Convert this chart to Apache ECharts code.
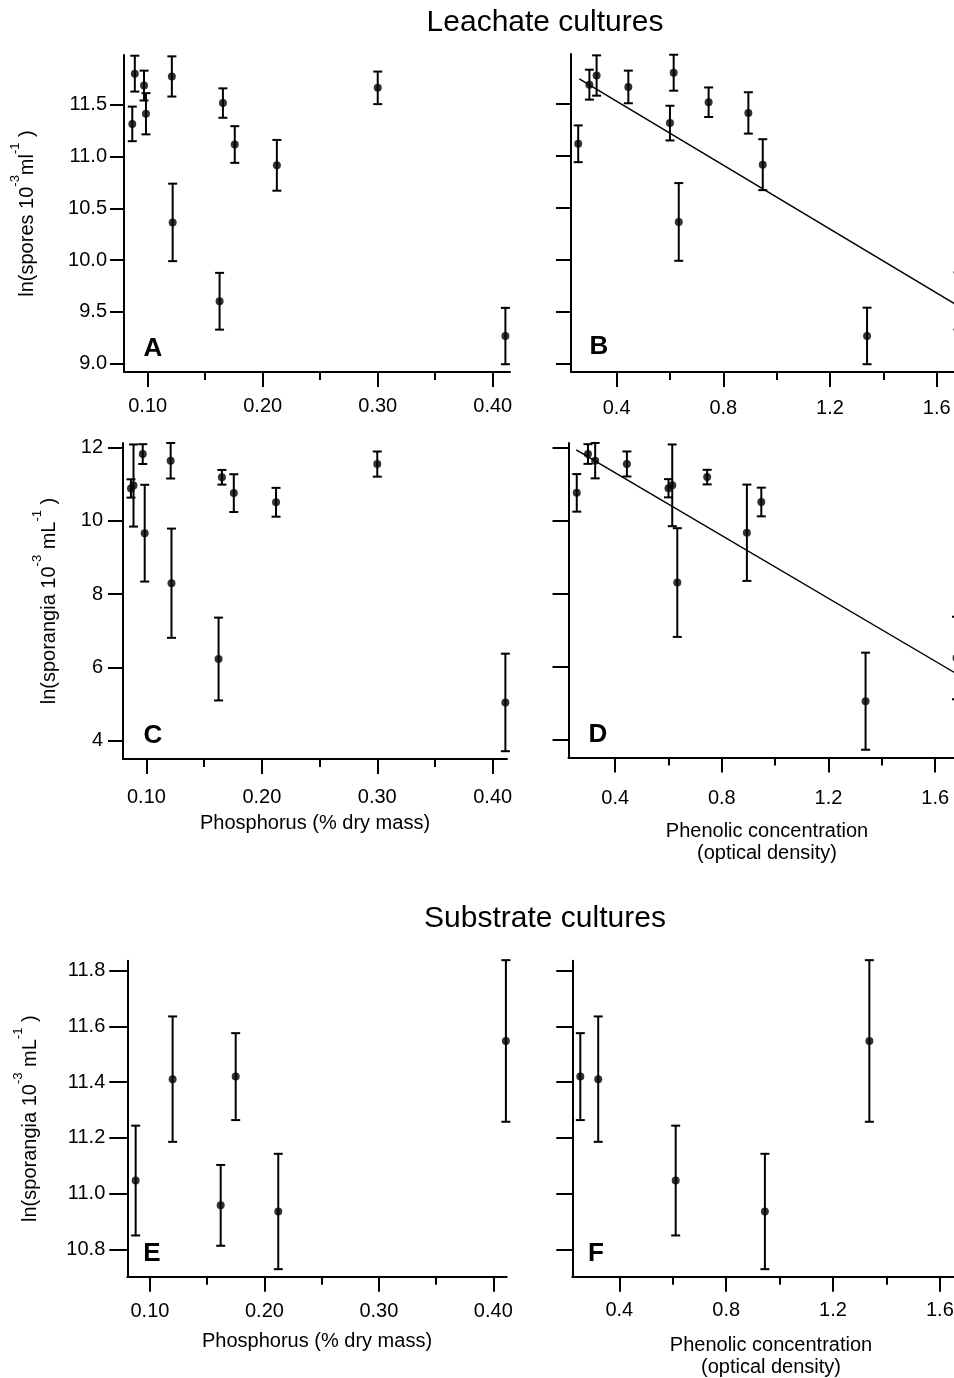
<!DOCTYPE html>
<html><head><meta charset="utf-8">
<script src="https://cdn.jsdelivr.net/npm/echarts@6/dist/echarts.min.js"></script>
<style>html,body{margin:0;padding:0;background:#fff}#c{width:954px;height:1378px}</style>
</head><body><div id="c"></div>
<script>
// ---------- DATA ----------
// Leachate cultures (12 leaf litter leachates)
const phosphorus    = [0.0866, 0.0888, 0.0968, 0.0985, 0.121, 0.1217, 0.1625, 0.1654, 0.1757, 0.2123, 0.300, 0.411];
const phenolic      = [0.600, 0.614, 0.298, 0.894, 0.325, 0.633, 1.68, 0.745, 0.256, 0.948, 0.444, 1.339];
const sporesMean    = [11.315, 11.80, 11.685, 11.413, 11.773, 10.364, 9.603, 11.516, 11.116, 10.915, 11.663, 9.267];
const sporesErr     = [0.167, 0.173, 0.144, 0.199, 0.194, 0.374, 0.274, 0.142, 0.177, 0.245, 0.157, 0.272];
const sporangiaMean = [10.88, 10.96, 11.818, 9.66, 11.636, 8.295, 6.227, 11.185, 10.753, 10.503, 11.545, 5.043];
const sporangiaErr  = [0.25, 1.12, 0.27, 1.32, 0.485, 1.49, 1.13, 0.20, 0.515, 0.393, 0.343, 1.33];
// Substrate cultures (6 substrates)
const subPhosphorus = [0.0875, 0.1198, 0.1618, 0.1749, 0.2121, 0.411];
const subPhenolic   = [0.611, 0.321, 1.68, 0.254, 0.945, 1.336];
const subMean       = [11.047, 11.411, 10.958, 11.42, 10.936, 11.548];
const subErr        = [0.197, 0.225, 0.145, 0.156, 0.207, 0.29];
// Regression lines (endpoints in data units)
const fitB = [[0.26, 11.74], [1.80, 9.373]];
const fitD = [[0.254, 11.93], [1.80, 5.28]];
// Tick values
const phosTicks      = [0.10, 0.20, 0.30, 0.40];
const phosMinor      = [0.15, 0.25, 0.35];
const phenTicks      = [0.4, 0.8, 1.2, 1.6];
const phenMinor      = [0.6, 1.0, 1.4];
const sporesTicks    = [9.0, 9.5, 10.0, 10.5, 11.0, 11.5];
const sporangiaTicks = [4, 6, 8, 10, 12];
const subTicks       = [10.8, 11.0, 11.2, 11.4, 11.6, 11.8];

// ---------- CHART ----------
const FONT = 'Liberation Sans, Arial, sans-serif';
const chart = echarts.init(document.getElementById('c'), null, {renderer: 'canvas'});

const ynameRich = {
  m: {fontSize: 20, fontFamily: FONT, color: '#000'},
  s: {fontSize: 13, fontFamily: FONT, color: '#000', padding: [0, 0, 24, 0]}
};
const yNameSpores = '{m|ln(spores 10}{s|-3}{m|ml}{s|-1}{m| )}';
const yNameSporangia = '{m|ln(sporangia 10}{s|-3}{m| mL}{s|-1}{m| )}';

const panels = [
  {grid: {left: 124, top: 55, width: 386, height: 317},
   x: {min: 0.0794, max: 0.415, major: phosTicks, minor: phosMinor, dec: 2, margin: 24},
   y: {min: 8.92, max: 11.98, ticks: sporesTicks, dec: 1, margin: 17, labels: true, tick: 14},
   yName: yNameSpores, yNameGap: 78.5,
   xs: phosphorus, ys: sporesMean, es: sporesErr},
  {grid: {left: 571, top: 54, width: 419, height: 318},
   x: {min: 0.229, max: 1.8, major: phenTicks, minor: phenMinor, dec: 1, margin: 26},
   y: {min: 8.92, max: 11.98, ticks: sporesTicks, dec: 1, margin: 17, labels: false, tick: 15},
   xs: phenolic, ys: sporesMean, es: sporesErr, fit: fitB},
  {grid: {left: 123, top: 443, width: 384, height: 316},
   x: {min: 0.0797, max: 0.4124, major: phosTicks, minor: phosMinor, dec: 2, margin: 28},
   y: {min: 3.5, max: 12.12, ticks: sporangiaTicks, dec: 0, margin: 20, labels: true, tick: 15},
   yName: yNameSporangia, yNameGap: 55.5,
   xName: 'Phosphorus (% dry mass)', xNameGap: 54,
   xs: phosphorus, ys: sporangiaMean, es: sporangiaErr},
  {grid: {left: 568.5, top: 443, width: 420, height: 314.5},
   x: {min: 0.225, max: 1.8, major: phenTicks, minor: phenMinor, dec: 1, margin: 31},
   y: {min: 3.5, max: 12.12, ticks: sporangiaTicks, dec: 0, margin: 15, labels: false, tick: 16},
   xs: phenolic, ys: sporangiaMean, es: sporangiaErr, fit: fitD},
  {grid: {left: 127.3, top: 960.7, width: 379.4, height: 316},
   x: {min: 0.0802, max: 0.4117, major: phosTicks, minor: phosMinor, dec: 2, margin: 25},
   y: {min: 10.702, max: 11.836, ticks: subTicks, dec: 1, margin: 22, labels: true, tick: 18},
   yName: yNameSporangia, yNameGap: 78,
   xName: 'Phosphorus (% dry mass)', xNameGap: 54.5,
   xs: subPhosphorus, ys: subMean, es: subErr},
  {grid: {left: 572.3, top: 960.7, width: 421, height: 316},
   x: {min: 0.224, max: 1.8, major: phenTicks, minor: phenMinor, dec: 1, margin: 24},
   y: {min: 10.702, max: 11.836, ticks: subTicks, dec: 1, margin: 13, labels: false, tick: 16},
   xs: subPhenolic, ys: subMean, es: subErr}
];

function renderErr(params, api) {
  const x = api.value(0), y = api.value(1), e = api.value(2);
  const hi = api.coord([x, y + e]), lo = api.coord([x, y - e]);
  const w = 4.5;
  const st = {stroke: '#000', lineWidth: 2, fill: null};
  return {type: 'group', children: [
    {type: 'line', shape: {x1: hi[0], y1: hi[1], x2: lo[0], y2: lo[1]}, style: st},
    {type: 'line', shape: {x1: hi[0] - w, y1: hi[1], x2: hi[0] + w, y2: hi[1]}, style: st},
    {type: 'line', shape: {x1: lo[0] - w, y1: lo[1], x2: lo[0] + w, y2: lo[1]}, style: st}
  ]};
}

const grids = [], xAxes = [], yAxes = [], series = [];
const axisLineStyle = {color: '#000', width: 2};
panels.forEach((p, i) => {
  grids.push(Object.assign({containLabel: false, outerBoundsMode: 'none'}, p.grid));
  const mainX = xAxes.length;
  xAxes.push({
    type: 'value', gridIndex: i, position: 'bottom', min: p.x.min, max: p.x.max,
    splitLine: {show: false},
    axisLine: {show: true, onZero: false, lineStyle: axisLineStyle},
    axisTick: {show: true, length: 15, customValues: p.x.major, lineStyle: {color: '#000', width: 2}},
    axisLabel: {show: true, customValues: p.x.major, margin: p.x.margin, color: '#000', fontSize: 20, fontFamily: FONT,
      formatter: (v) => v.toFixed(p.x.dec)},
    name: p.xName || '', nameLocation: 'middle', nameGap: p.xNameGap || 0,
    nameTextStyle: {fontSize: 20, fontFamily: FONT, color: '#000'}
  });
  xAxes.push({
    type: 'value', gridIndex: i, position: 'bottom', min: p.x.min, max: p.x.max,
    splitLine: {show: false},
    axisLine: {show: false, onZero: false},
    axisTick: {show: true, length: 8, customValues: p.x.minor, lineStyle: {color: '#000', width: 2}},
    axisLabel: {show: false}
  });
  yAxes.push({
    type: 'value', gridIndex: i, position: 'left', min: p.y.min, max: p.y.max,
    splitLine: {show: false},
    axisLine: {show: true, onZero: false, lineStyle: axisLineStyle},
    axisTick: {show: true, length: p.y.tick, customValues: p.y.ticks, lineStyle: {color: '#000', width: 2}},
    axisLabel: {show: p.y.labels, customValues: p.y.ticks, margin: p.y.margin, color: '#000', fontSize: 20, fontFamily: FONT,
      formatter: (v) => v.toFixed(p.y.dec)},
    name: p.yName || '', nameLocation: 'middle', nameRotate: 90, nameGap: p.yNameGap || 0,
    nameTextStyle: {fontSize: 20, fontFamily: FONT, color: '#000', rich: ynameRich}
  });
  const pts = p.xs.map((x, k) => [x, p.ys[k], p.es[k]]);
  series.push({
    type: 'custom', xAxisIndex: mainX, yAxisIndex: i, renderItem: renderErr,
    data: pts, encode: {x: 0, y: 1}, silent: true, z: 3
  });
  series.push({
    type: 'scatter', xAxisIndex: mainX, yAxisIndex: i, symbol: 'circle', symbolSize: 8,
    itemStyle: {color: '#000'}, data: pts.map(d => [d[0], d[1]]), silent: true, z: 4
  });
  if (p.fit) {
    series.push({
      type: 'line', xAxisIndex: mainX, yAxisIndex: i, data: p.fit, showSymbol: false, symbol: 'none',
      lineStyle: {color: '#000', width: 1.5}, silent: true, z: 2
    });
  }
});

const txt = (t, x, y, font, extra) => Object.assign({
  type: 'text', x: x, y: y, silent: true,
  style: Object.assign({text: t, font: font, fill: '#000', align: 'center', verticalAlign: 'middle',
    textAlign: 'center', textVerticalAlign: 'middle'}, extra || {})
});
const letterFont = 'bold 26px ' + FONT;
const graphics = [
  txt('Leachate cultures', 545, 22.5, '30px ' + FONT),
  txt('Substrate cultures', 545, 919, '30px ' + FONT),
  txt('A', 153, 349, letterFont), txt('B', 599, 347, letterFont),
  txt('C', 153, 736, letterFont), txt('D', 598, 735, letterFont),
  txt('E', 152, 1254, letterFont), txt('F', 596, 1254, letterFont),
  txt('Phenolic concentration\n(optical density)', 767, 820, '20px ' + FONT,
      {verticalAlign: 'top', textVerticalAlign: 'top', lineHeight: 22}),
  txt('Phenolic concentration\n(optical density)', 771, 1334, '20px ' + FONT,
      {verticalAlign: 'top', textVerticalAlign: 'top', lineHeight: 22})
];

chart.setOption({
  animation: false,
  backgroundColor: '#fff',
  grid: grids,
  xAxis: xAxes,
  yAxis: yAxes,
  series: series,
  graphic: {elements: graphics}
});
</script>
</body></html>
